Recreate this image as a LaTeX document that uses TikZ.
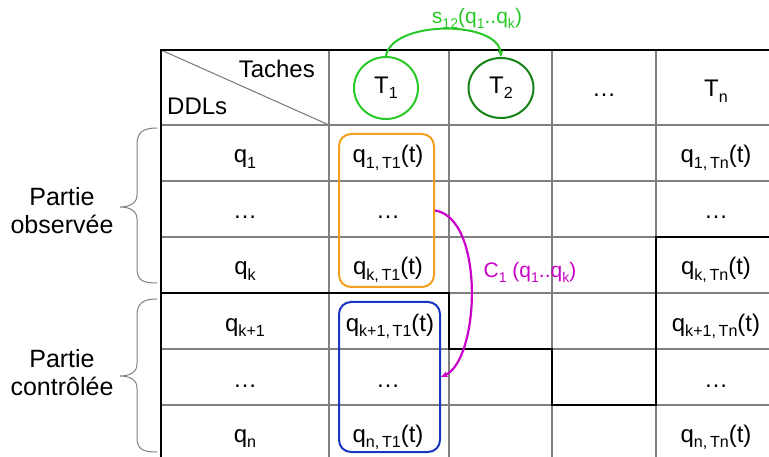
\documentclass[tikz,border=0pt]{standalone}
\usepackage{fontspec}
\setmainfont{Liberation Sans}
\usetikzlibrary{shapes.geometric,arrows.meta}
\definecolor{gridgray}{RGB}{128,128,128}
\definecolor{boxorange}{RGB}{243,160,30}
\definecolor{boxblue}{RGB}{25,55,190}
\definecolor{lightgreen}{RGB}{40,200,40}
\definecolor{darkgreen}{RGB}{20,130,20}
\definecolor{arcmagenta}{RGB}{200,0,200}
\newcommand{\lsub}[1]{\raisebox{-0.22em}{\scalebox{0.67}{#1}}}
\tikzset{
  gridline/.style={draw=gridgray, line width=1.1pt},
  thickline/.style={draw=black, line width=2.4pt, line join=miter},
  celltext/.style={anchor=base, inner sep=0pt},
  taskcircle/.style={ellipse, draw, line width=2pt, minimum width=64pt, minimum height=62pt, inner sep=0pt},
  groupbox/.style={draw, rounded corners=12pt, line width=2pt},
  bracestyle/.style={draw=gridgray, line width=1pt},
  labeltext/.style={font=\fontsize{21}{25}\selectfont, anchor=base, inner sep=0pt},
  parttext/.style={align=center, inner sep=0pt, font=\fontsize{25}{28}\selectfont}
}
\begin{document}
\begin{tikzpicture}[x=1pt, y=-1pt, font=\fontsize{24}{29}\selectfont]
\useasboundingbox (0,0) rectangle (769,457);
\clip (0,0) rectangle (769,457);
% grid
\foreach \x in {329,449,552,656} \draw[gridline] (\x,50) -- (\x,470);
\foreach \y in {125,181,237,293,349,405} \draw[gridline] (161,\y) -- (780,\y);
\draw[gridline] (161,50) -- (329,125);
\draw[thickline] (780,50) -- (161,50) -- (161,470);
\draw[thickline] (161,293) -- (449,293) -- (449,349) -- (552,349) -- (552,405) -- (656,405) -- (656,237) -- (780,237);
% header
\node[anchor=base east, inner sep=0pt] (taches) at (315,78) {Taches};
\node[anchor=base west, inner sep=0pt] (ddls) at (167,115) {DDLs};
\node[taskcircle, draw=lightgreen] (t1) at (386,88) {T\lsub{1}};
\node[taskcircle, draw=darkgreen, minimum width=65pt, minimum height=60pt] (t2) at (501,88) {T\lsub{2}};
\node[celltext] (hdots) at (604,97) {\ldots};
\node[celltext] (tn) at (716,97) {T\lsub{n}};
% first column
\node[celltext] (q1) at (245,163) {q\lsub{1}};
\node[celltext] (qd1) at (245,219) {\ldots};
\node[celltext] (qk) at (245,275) {q\lsub{k}};
\node[celltext] (qk1) at (245,331) {q\lsub{k+1}};
\node[celltext] (qd2) at (245,387) {\ldots};
\node[celltext] (qn) at (245,442) {q\lsub{n}};
% T1 column
\node[celltext] (a1) at (388,163) {q\lsub{1,\,T1}(t)};
\node[celltext] (ad1) at (388,219) {\ldots};
\node[celltext] (ak) at (388,275) {q\lsub{k,\,T1}(t)};
\node[celltext] (ak1) at (390,331) {q\lsub{k+1,\,T1}(t)};
\node[celltext] (ad2) at (388,387) {\ldots};
\node[celltext] (an) at (388,442) {q\lsub{n,\,T1}(t)};
% Tn column
\node[celltext] (b1) at (716,163) {q\lsub{1,\,Tn}(t)};
\node[celltext] (bd1) at (716,219) {\ldots};
\node[celltext] (bk) at (716,275) {q\lsub{k,\,Tn}(t)};
\node[celltext] (bk1) at (716,331) {q\lsub{k+1,\,Tn}(t)};
\node[celltext] (bd2) at (716,387) {\ldots};
\node[celltext] (bn) at (716,442) {q\lsub{n,\,Tn}(t)};
% group boxes
\node[groupbox, draw=boxorange, minimum width=95pt, minimum height=153pt] (obox) at (386.5,210.5) {};
\node[groupbox, draw=boxblue, minimum width=101pt, minimum height=150pt] (bbox) at (389.5,377) {};
% arrows
\draw[draw=lightgreen, line width=2pt, -{Stealth[length=7pt,width=6pt]}] (t1.north) .. controls (392,20) and (498,20) .. (t2.north);
\node[labeltext, text=lightgreen] (slabel) at (477,24) {s\lsub{12}(q\lsub{1}..q\lsub{k})};
\draw[draw=arcmagenta, line width=2.2pt, -{Stealth[length=7pt,width=6pt]}] (obox.east) .. controls (485,218) and (480,360) .. (bbox.east);
\node[labeltext, text=arcmagenta] (clabel) at (530,278) {C\lsub{1} (q\lsub{1}..q\lsub{k})};
% braces
\draw[bracestyle] (157,128) .. controls (142,128) and (137,133) .. (137,145) -- (137,195) .. controls (137,203) and (130,207) .. (120,207) .. controls (130,207) and (137,211) .. (137,219) -- (137,268) .. controls (137,280) and (142,283) .. (157,283);
\draw[bracestyle] (157,299) .. controls (142,299) and (137,304) .. (137,316) -- (137,364) .. controls (137,372) and (130,376) .. (120,376) .. controls (130,376) and (137,380) .. (137,388) -- (137,437) .. controls (137,449) and (142,452) .. (157,452);
\node[parttext] (obs) at (62,211) {Partie\\observée};
\node[parttext] (ctl) at (62,373) {Partie\\contrôlée};
\end{tikzpicture}
\end{document}
